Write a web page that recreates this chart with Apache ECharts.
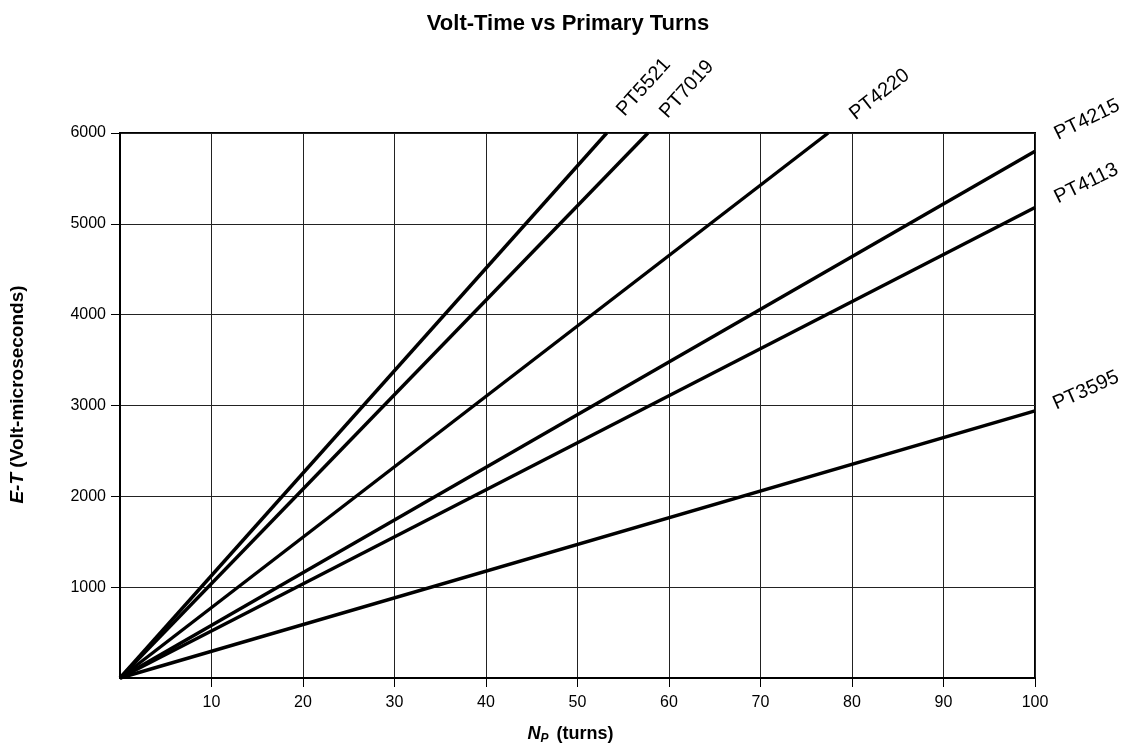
<!DOCTYPE html>
<html><head><meta charset="utf-8">
<script src="https://cdn.jsdelivr.net/npm/echarts@6/dist/echarts.min.js"></script>
<style>html,body{margin:0;padding:0;background:#fff}#c{width:1125px;height:743px}</style>
</head><body><div id="c"></div>
<script>
const seriesNames = ['PT5521','PT7019','PT4220','PT4215','PT4113','PT3595'];
const endTurns = [53.2, 57.7, 77.4, 100, 100, 100];
const endET = [6000, 6000, 6000, 5800, 5180, 2940];
const labelRotate = [48, 48, 38, 26, 26, 24];
const labelScreenOffset = [[21,-13],[23,-11],[30,-9],[25,-7],[25,0],[23,3]];
const xTicks = [10,20,30,40,50,60,70,80,90,100];
const yTicks = [1000,2000,3000,4000,5000,6000];

const font = '"Liberation Sans", Arial, Helvetica, sans-serif';
function localOffset(o, deg){
  const r = deg*Math.PI/180, c=Math.cos(r), s=Math.sin(r);
  return [o[0]*c - o[1]*s, o[0]*s + o[1]*c];
}
const chart = echarts.init(document.getElementById('c'), null, {renderer:'canvas'});
const series = seriesNames.map((n,i)=>({
  type:'line', name:n, clip:false, animation:false,
  symbol:'circle', symbolSize:0.1, showSymbol:true,
  lineStyle:{color:'#000', width:3.4},
  itemStyle:{color:'#000'},
  data:[[0,0], {value:[endTurns[i], endET[i]], label:{
    show:true, formatter:n, position:[0,0], offset:localOffset(labelScreenOffset[i], labelRotate[i]),
    rotate:labelRotate[i], align:'left', verticalAlign:'bottom',
    color:'#000', fontSize:20, fontFamily:font
  }}]
}));
chart.setOption({
  animation:false,
  backgroundColor:'#fff',
  title:{text:'Volt-Time vs Primary Turns', left:563, top:8, textAlign:'center',
    textStyle:{fontFamily:font, fontSize:22, fontWeight:'bold', color:'#000'}},
  grid:{left:120, right:90, top:133, bottom:65, outerBoundsMode:'none', containLabel:false,
    show:true, borderColor:'#000', borderWidth:2, backgroundColor:'transparent'},
  xAxis:{type:'value', min:0, max:100, interval:10,
    name:'{i|N}{s|P} (turns)', nameLocation:'middle', nameGap:46,
    nameTextStyle:{fontFamily:font, fontSize:18, fontWeight:'bold', color:'#000', padding:[0,14,0,0],
      rich:{i:{fontFamily:font, fontSize:18, fontWeight:'bold', fontStyle:'italic', color:'#000'},
            s:{fontFamily:font, fontSize:12, fontWeight:'bold', fontStyle:'italic', color:'#000', padding:[9,3,0,0]}}},
    axisLine:{show:true, lineStyle:{color:'#000', width:2}},
    axisTick:{show:true, length:9, customValues:xTicks, lineStyle:{color:'#000', width:1}},
    axisLabel:{color:'#000', fontSize:16, fontFamily:font, margin:17,
      formatter:v=> xTicks.includes(v)? String(v):''},
    splitLine:{show:true, lineStyle:{color:'#222', width:1}}},
  yAxis:{type:'value', min:0, max:6000, interval:1000,
    name:'{i|E-T} (Volt-microseconds)', nameLocation:'middle', nameGap:93, nameRotate:90,
    nameTextStyle:{fontFamily:font, fontSize:19, fontWeight:'bold', color:'#000', padding:[0,0,0,22],
      rich:{i:{fontFamily:font, fontSize:19, fontWeight:'bold', fontStyle:'italic', color:'#000'}}},
    axisLine:{show:true, lineStyle:{color:'#000', width:2}},
    axisTick:{show:true, length:9, customValues:yTicks, lineStyle:{color:'#000', width:1}},
    axisLabel:{color:'#000', fontSize:16, fontFamily:font, margin:14,
      formatter:v=> yTicks.includes(v)? String(v):''},
    splitLine:{show:true, lineStyle:{color:'#222', width:1}}},
  series
});
</script></body></html>
